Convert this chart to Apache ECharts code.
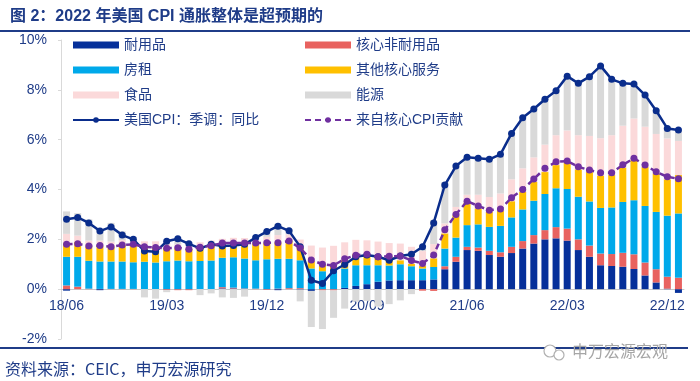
<!DOCTYPE html>
<html><head><meta charset="utf-8">
<script src="https://cdn.jsdelivr.net/npm/echarts@6/dist/echarts.min.js"></script>
<style>html,body{margin:0;padding:0;background:#fff}#c{width:700px;height:381px}</style>
</head><body><div id="c"></div>
<script>
const categories = ['18/06','18/07','18/08','18/09','18/10','18/11','18/12','19/01','19/02','19/03',
'19/04','19/05','19/06','19/07','19/08','19/09','19/10','19/11','19/12','20/01',
'20/02','20/03','20/04','20/05','20/06','20/07','20/08','20/09','20/10','20/11',
'20/12','21/01','21/02','21/03','21/04','21/05','21/06','21/07','21/08','21/09',
'21/10','21/11','21/12','22/01','22/02','22/03','22/04','22/05','22/06','22/07',
'22/08','22/09','22/10','22/11','22/12','23/01'];
const durable = [-0.06,0,0,-0.04,0,0,0,0,0,0, 0,0,0,0,0.03,0.03,0.02,0,0,-0.04, 0,-0.02,-0.07,0,0,0.05,0.13,0.2,0.3,0.35, 0.36,0.36,0.36,0.39,0.8,1.1,1.57,1.54,1.37,1.3, 1.45,1.63,1.83,2.0,2.04,1.95,1.57,1.3,0.96,0.93, 0.9,0.81,0.55,0.27,0.02,-0.15];
const nondurable = [0.15,0.1,0.02,0.01,0.01,0.01,0.01,0,0,-0.04, -0.04,-0.04,0,0,0.05,0.03,0.01,0.02,-0.03,0.02, 0.04,0.04,0,-0.05,-0.05,0,0,0,0,0, 0,0,-0.06,-0.07,0.12,0.2,0.13,0.13,0.17,0.18, 0.25,0.3,0.34,0.37,0.45,0.48,0.43,0.45,0.47,0.48, 0.56,0.59,0.52,0.53,0.48,0.46];
const rent = [1.15,1.2,1.12,1.1,1.1,1.1,1.07,1.1,1.07,1.12, 1.15,1.12,1.13,1.15,1.18,1.22,1.2,1.14,1.2,1.2, 1.18,1.12,0.83,0.72,0.76,0.78,0.83,0.76,0.66,0.6, 0.64,0.56,0.47,0.5,0.71,0.77,0.87,0.93,0.96,1.06, 1.18,1.27,1.38,1.45,1.56,1.59,1.71,1.77,1.83,1.87, 2.04,2.17,2.27,2.3,2.45,2.58];
const otherServices = [0.55,0.6,0.58,0.62,0.6,0.66,0.72,0.6,0.6,0.55, 0.5,0.5,0.55,0.6,0.58,0.58,0.62,0.68,0.65,0.65, 0.73,0.5,0.3,0.25,0.2,0.35,0.45,0.45,0.35,0.35, 0.16,0.1,0.1,0.35,0.61,0.9,0.9,0.64,0.6,0.62, 0.65,0.7,0.75,0.88,0.93,1.05,1.1,1.18,1.3,1.3, 1.38,1.63,1.56,1.55,1.46,1.54];
const food = [0.37,0.25,0.23,0.22,0.2,0.2,0.2,0.22,0.25,0.2, 0.15,0.2,0.2,0.2,0.18,0.2,0.2,0.25,0.25,0.3, 0.25,0.33,0.62,0.7,0.78,0.7,0.57,0.55,0.6,0.55, 0.67,0.68,0.6,0.57,0.4,0.33,0.32,0.55,0.6,0.68, 0.88,0.95,0.99,1.1,1.2,1.3,1.37,1.45,1.5,1.6, 1.68,1.65,1.62,1.58,1.64,1.37];
const energy = [0.9,0.9,0.85,0.45,0.75,0.35,0.1,-0.33,-0.38,-0.08, 0.15,0.05,-0.24,-0.17,-0.33,-0.35,-0.3,0.05,0.25,0.45, 0.2,-0.47,-1.45,-1.55,-1.1,-0.78,-0.5,-0.47,-0.7,-0.6, -0.45,-0.2,0.25,0.97,1.66,1.6,1.47,1.45,1.48,1.52, 1.83,2.03,1.94,1.85,1.8,2.15,2.1,2.45,2.9,2.25, 1.7,1.38,1.27,0.9,0.47,0.43];
const cpiYoY = [2.81,2.88,2.66,2.33,2.5,2.17,2.0,1.53,1.5,1.92, 2.02,1.82,1.64,1.8,1.73,1.75,1.8,2.07,2.31,2.53, 2.34,1.7,0.36,0.23,0.74,0.99,1.3,1.37,1.3,1.16, 1.33,1.4,1.7,2.66,4.18,4.94,5.29,5.25,5.21,5.41, 6.25,6.88,7.23,7.62,7.96,8.55,8.26,8.53,8.96,8.42, 8.26,8.23,7.79,7.16,6.45,6.39];
const coreContribution = [1.8,1.82,1.73,1.75,1.7,1.77,1.8,1.7,1.67,1.64, 1.66,1.6,1.68,1.74,1.85,1.85,1.85,1.85,1.86,1.86, 1.93,1.65,1.17,1.0,0.95,1.22,1.36,1.4,1.3,1.32, 1.33,1.15,1.03,1.37,2.38,3.0,3.53,3.34,3.17,3.22, 3.67,4.0,4.42,4.85,5.11,5.14,4.91,4.78,4.67,4.67, 4.99,5.25,4.98,4.71,4.51,4.43];
const yMin = -2, yMax = 10, yStep = 2;

const FONT = "'Liberation Sans','Noto Sans CJK SC',sans-serif";
const TXT = '#1F3C88';
const GRID_TOP = 40, GRID_BOTTOM = 42, CHART_H = 381;
const plotH = CHART_H - GRID_TOP - GRID_BOTTOM;
const zeroOffset = -plotH * (0 - yMin) / (yMax - yMin);

const barDefs = [
  ['耐用品', durable, '#06309A'],
  ['核心非耐用品', nondurable, '#E8625F'],
  ['房租', rent, '#00A9EA'],
  ['其他核心服务', otherServices, '#FFC000'],
  ['食品', food, '#FBD9DA'],
  ['能源', energy, '#D9D9D9']
];
const series = barDefs.map(([name, data, color]) => ({
  name, type: 'bar', stack: 'cpi', data, barWidth: 7,
  itemStyle: { color }, emphasis: { disabled: true }
}));
series.push({
  name: '美国CPI：季调：同比', type: 'line', data: cpiYoY, z: 5,
  symbol: 'circle', symbolSize: 7, showAllSymbol: true,
  lineStyle: { color: '#0A2D8C', width: 2.5 }, itemStyle: { color: '#0A2D8C' }
});
series.push({
  name: '来自核心CPI贡献', type: 'line', data: coreContribution, z: 6,
  symbol: 'circle', symbolSize: 7, showAllSymbol: true,
  lineStyle: { color: '#7030A0', width: 2.5, type: [6, 4] }, itemStyle: { color: '#7030A0' }
});

const legendBase = {
  orient: 'vertical', top: 37, itemWidth: 46, itemHeight: 7, itemGap: 9, padding: 0,
  textStyle: { fontSize: 14, color: TXT, lineHeight: 16, fontFamily: FONT }
};
const chart = echarts.init(document.getElementById('c'));
chart.setOption({
  animation: false,
  textStyle: { fontFamily: FONT },
  title: { text: '图 2：2022 年美国 CPI 通胀整体是超预期的', left: 5, top: 4,
    textStyle: { fontSize: 16, fontWeight: 'bold', color: TXT, fontFamily: FONT } },
  grid: { left: 61, right: 16, top: GRID_TOP, bottom: GRID_BOTTOM },
  legend: [
    Object.assign({}, legendBase, { left: 72, data: [{name:'耐用品',icon:'rect'},{name:'房租',icon:'rect'},{name:'食品',icon:'rect'},{name:'美国CPI：季调：同比'}] }),
    Object.assign({}, legendBase, { left: 304, data: [{name:'核心非耐用品',icon:'rect'},{name:'其他核心服务',icon:'rect'},{name:'能源',icon:'rect'},{name:'来自核心CPI贡献'}] })
  ],
  xAxis: {
    type: 'category', data: categories, offset: zeroOffset,
    axisLine: { onZero: false, lineStyle: { color: '#C8C8C8' } },
    axisTick: { interval: 8, length: 4, lineStyle: { color: '#C8C8C8' } },
    axisLabel: { interval: 8, color: TXT, fontSize: 14, margin: 10 }
  },
  yAxis: {
    type: 'value', min: yMin, max: yMax, interval: yStep,
    splitLine: { show: false },
    axisLine: { show: true, lineStyle: { color: '#D9D9D9' } },
    axisTick: { show: true, length: 3, lineStyle: { color: '#D9D9D9' } },
    axisLabel: { formatter: '{value}%', color: TXT, fontSize: 14, margin: 14 }
  },
  graphic: [
    { type: 'line', shape: { x1: 0, y1: 31, x2: 690, y2: 31 }, style: { stroke: TXT, lineWidth: 2 } },
    { type: 'line', shape: { x1: 0, y1: 348, x2: 688, y2: 348 }, style: { stroke: TXT, lineWidth: 2 } },
    { type: 'text', left: 5, top: 361, style: { text: '资料来源：CEIC，申万宏源研究', fill: TXT, font: "16px 'Noto Sans CJK SC', sans-serif" } },
    { type: 'circle', shape: { cx: 550, cy: 351, r: 6 }, style: { fill: '#fff', stroke: '#B0B0B0', lineWidth: 1.2 } },
    { type: 'circle', shape: { cx: 559, cy: 355, r: 5 }, style: { fill: '#fff', stroke: '#B0B0B0', lineWidth: 1.2 } },
    { type: 'text', left: 572, top: 343, style: { text: '申万宏源宏观', fill: '#A6A6A6', font: "16px 'Noto Sans CJK SC', sans-serif" } }
  ],
  series
});
</script></body></html>
